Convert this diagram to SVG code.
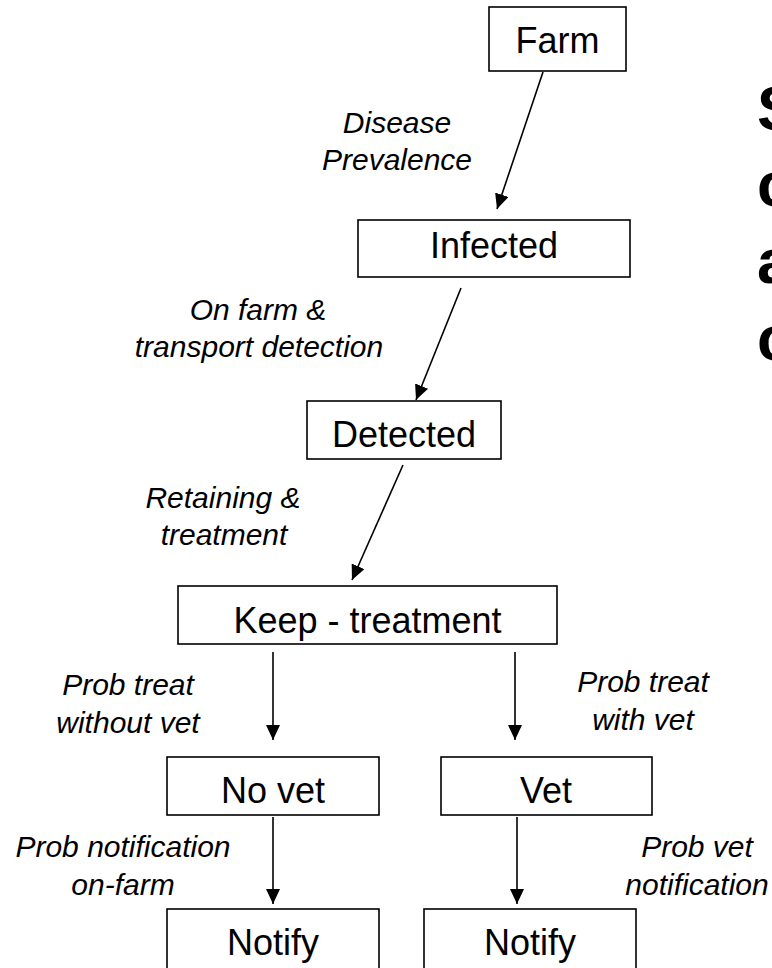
<svg xmlns="http://www.w3.org/2000/svg" width="772" height="968" viewBox="0 0 772 968">
<style>
.box{fill:#fff;stroke:#000;stroke-width:1.6}
.nt{font-family:"Liberation Sans",Arial,sans-serif;font-size:36px;text-anchor:middle;fill:#000}
.lb{font-family:"Liberation Sans",Arial,sans-serif;font-size:30px;font-style:italic;text-anchor:middle;fill:#000}
.big{font-family:"Liberation Sans",Arial,sans-serif;font-size:63px;font-weight:bold;fill:#000}
.edge{stroke:#000;stroke-width:1.6;fill:none;marker-end:url(#arr)}
</style>
<defs>
<marker id="arr" markerUnits="userSpaceOnUse" markerWidth="16" markerHeight="14" refX="15" refY="7" orient="auto">
<path d="M0,0 L15,7 L0,14 Z" fill="#000"/>
</marker>
</defs>
<rect width="772" height="968" fill="#fff"/>
<g id="title">
<text class="big" x="757" y="130">S</text>
<text class="big" x="757" y="206">c</text>
<text class="big" x="757" y="283">a</text>
<text class="big" x="757" y="360">c</text>
</g>
<g id="connectors">
<line class="edge" x1="543" y1="72" x2="497" y2="209"/>
<line class="edge" x1="461" y1="288" x2="416" y2="400"/>
<line class="edge" x1="403" y1="465" x2="352" y2="580"/>
<line class="edge" x1="273" y1="652" x2="273" y2="740"/>
<line class="edge" x1="515" y1="652" x2="515" y2="740"/>
<line class="edge" x1="273" y1="817" x2="273" y2="904"/>
<line class="edge" x1="517" y1="817" x2="517" y2="904"/>
</g>
<g id="labels">
<text class="lb" x="397" y="133">Disease</text>
<text class="lb" x="397" y="170">Prevalence</text>
<text class="lb" x="258" y="320">On farm &amp;</text>
<text class="lb" x="259" y="357">transport detection</text>
<text class="lb" x="223" y="508">Retaining &amp;</text>
<text class="lb" x="224" y="545">treatment</text>
<text class="lb" x="128" y="695">Prob treat</text>
<text class="lb" x="128" y="733">without vet</text>
<text class="lb" x="643" y="692">Prob treat</text>
<text class="lb" x="643" y="730">with vet</text>
<text class="lb" x="123" y="857">Prob notification</text>
<text class="lb" x="123" y="895">on-farm</text>
<text class="lb" x="697" y="857">Prob vet</text>
<text class="lb" x="697" y="895">notification</text>
</g>
<g id="farm"><rect class="box" x="489" y="7" width="137" height="64"/><text class="nt" x="557.5" y="53">Farm</text></g>
<g id="infected"><rect class="box" x="358" y="220" width="272" height="57"/><text class="nt" x="494" y="258">Infected</text></g>
<g id="detected"><rect class="box" x="307" y="401" width="194" height="58"/><text class="nt" x="404" y="447">Detected</text></g>
<g id="keep"><rect class="box" x="178" y="586" width="379" height="58"/><text class="nt" x="367.5" y="633">Keep - treatment</text></g>
<g id="novet"><rect class="box" x="167" y="757" width="212" height="58"/><text class="nt" x="273" y="803">No vet</text></g>
<g id="vet"><rect class="box" x="441" y="757" width="211" height="58"/><text class="nt" x="546" y="803">Vet</text></g>
<g id="notify1"><rect class="box" x="167" y="909" width="212" height="80"/><text class="nt" x="273" y="955">Notify</text></g>
<g id="notify2"><rect class="box" x="424" y="909" width="212" height="80"/><text class="nt" x="530" y="955">Notify</text></g>
</svg>
